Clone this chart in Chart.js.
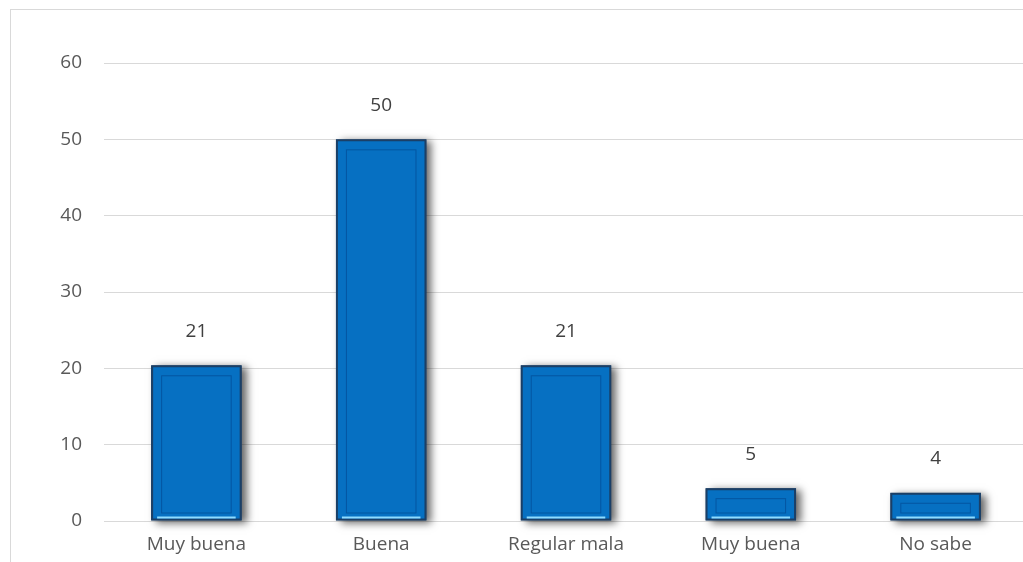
<!DOCTYPE html>
<html>
<head>
<meta charset="utf-8">
<script src="https://cdn.jsdelivr.net/npm/chart.js@4/dist/chart.umd.min.js"></script>
<style>
  html, body { margin: 0; padding: 0; background: #fff; overflow: hidden; }
  #marco { position: absolute; left: 10px; top: 9px; width: 1100px; height: 600px; border: 1px solid #d9d9d9; }
  #caja { position: absolute; left: 0; top: 0; width: 1036px; height: 562px; }
</style>
</head>
<body>
<div id="marco"></div>
<div id="caja"><canvas id="grafico"></canvas></div>
<script>
// Datos
const categorias = ['Muy buena', 'Buena', 'Regular mala', 'Muy buena', 'No sabe'];
const valores = [20.4, 50, 20.4, 4.3, 3.7];
const etiquetas = ['21', '50', '21', '5', '4'];
const ticksY = [0, 10, 20, 30, 40, 50, 60];

const fuente = '"Open Sans", "DejaVu Sans", sans-serif';

// sombra y relieve de las barras
const relieve = {
  id: 'relieve',
  beforeDatasetsDraw(chart) {
    const ctx = chart.ctx;
    ctx.save();
    ctx.shadowColor = 'rgba(0,0,0,0.6)';
    ctx.shadowBlur = 8;
    ctx.shadowOffsetX = 5;
    ctx.shadowOffsetY = 2;
    ctx.fillStyle = '#1b3f66';
    chart.getDatasetMeta(0).data.forEach(bar => {
      ctx.fillRect(bar.x - bar.width / 2, bar.y, bar.width, bar.base - bar.y);
    });
    ctx.restore();
  },
  afterDatasetsDraw(chart) {
    const ctx = chart.ctx;
    ctx.save();
    chart.getDatasetMeta(0).data.forEach((bar, i) => {
      const izq = bar.x - bar.width / 2;
      const der = bar.x + bar.width / 2;
      const arriba = bar.y;
      const abajo = bar.base;
      // borde interior
      ctx.strokeStyle = 'rgba(0,60,130,0.5)';
      ctx.lineWidth = 1;
      ctx.strokeRect(izq + 10.5, arriba + 10.5, bar.width - 21, abajo - arriba - 18);
      // brillo inferior
      ctx.strokeStyle = '#8fdcff';
      ctx.lineWidth = 2;
      ctx.beginPath();
      ctx.moveTo(izq + 6, abajo - 3);
      ctx.lineTo(der - 6, abajo - 3);
      ctx.stroke();
      // etiqueta de valor
      ctx.fillStyle = '#404040';
      ctx.font = '19px ' + fuente;
      ctx.textAlign = 'center';
      ctx.textBaseline = 'middle';
      ctx.fillText(etiquetas[i], bar.x, arriba - 34);
    });
    ctx.restore();
  }
};

new Chart(document.getElementById('grafico'), {
  type: 'bar',
  data: {
    labels: categorias,
    datasets: [{
      data: valores,
      backgroundColor: '#0670c2',
      borderColor: '#1b3f66',
      borderWidth: 2,
      borderSkipped: false,
      categoryPercentage: 1,
      barPercentage: 0.49
    }]
  },
  options: {
    responsive: true,
    maintainAspectRatio: false,
    animation: false,
    layout: { padding: { top: 63, right: 8, left: 0, bottom: 0 } },
    plugins: { legend: { display: false }, tooltip: { enabled: false } },
    scales: {
      x: {
        grid: { display: false },
        border: { color: '#d9d9d9' },
        ticks: { color: '#595959', font: { family: fuente, size: 19 }, padding: 4 },
        afterFit(scale) { scale.height = 41; }
      },
      y: {
        min: 0,
        max: 60,
        afterBuildTicks(scale) { scale.ticks = ticksY.map(v => ({ value: v })); },
        grid: { color: '#d9d9d9', drawTicks: false },
        border: { display: false },
        ticks: { color: '#595959', font: { family: fuente, size: 19 }, padding: 22 },
        afterFit(scale) { scale.width = 104; }
      }
    }
  },
  plugins: [relieve]
});
</script>
</body>
</html>
